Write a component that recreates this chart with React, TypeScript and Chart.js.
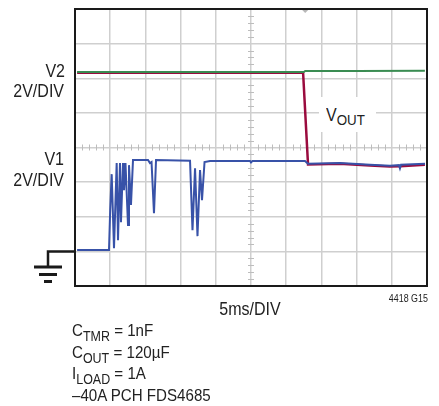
import React, { useEffect, useRef } from "react";
import { Chart, registerables } from "chart.js";

Chart.register(...registerables);

// Time axis in ms (5 ms/DIV, 10 divisions); values in divisions (8 divisions, center = 0)
const xMin = 0;
const xMax = 50;
const xStep = 5;
const yMin = -4;
const yMax = 4;
const yStep = 1;
const groundLevel = -3;
const triggerTime = 32.7;

// V2 (green)
const v2Time = [0.3, 10, 20, 32.5, 32.7, 40, 49.7];
const v2Vals = [2.18, 2.18, 2.18, 2.18, 2.21, 2.21, 2.22];

// VOUT (red)
const voutTime = [0.3, 20, 32.4, 33.1, 37.6, 41.9, 44.7, 46.2, 49.7];
const voutVals = [2.16, 2.16, 2.16, -0.49, -0.47, -0.52, -0.55, -0.54, -0.5];

// V1 (blue)
const v1Time = [
  0.3, 4.83, 5.0, 5.21, 5.54, 5.92, 6.11, 6.39, 6.53, 6.82, 6.96, 7.17, 7.53, 7.67,
  7.95, 8.24, 10.37, 10.65, 10.87, 11.22, 11.51, 16.34, 16.69, 17.05, 17.4, 17.76,
  18.04, 18.4, 19.18, 24.86, 25.0, 25.2, 32.67, 33.1, 37.64, 41.9, 44.74, 46.02, 46.16,
  46.31, 49.72,
];
const v1Vals = [
  -2.96, -2.96, -1.8, -0.77, -2.91, -0.45, -2.68, -0.45, -2.16, -0.45, -1.23, -0.45,
  -2.24, -0.51, -1.66, -0.36, -0.36, -0.45, -0.42, -1.9, -0.36, -0.38, -2.39, -0.6,
  -2.56, -0.65, -1.52, -0.42, -0.39, -0.39, -0.43, -0.39, -0.39, -0.47, -0.45, -0.5,
  -0.53, -0.51, -0.6, -0.5, -0.47,
];

const toPoints = (t: number[], v: number[]) => t.map((x, i) => ({ x, y: v[i] }));

const FONT = '"Liberation Sans", Arial, sans-serif';
const SX = 0.89;

const scopePlugin = {
  id: "scope",
  beforeDatasetsDraw(chart: any) {
    const { ctx, chartArea, scales } = chart;
    const xs = scales.x;
    const ys = scales.y;
    const cx = xs.getPixelForValue((xMin + xMax) / 2);
    const cy = ys.getPixelForValue(0);
    ctx.save();
    ctx.strokeStyle = "#bdbdbd";
    ctx.lineWidth = 1;
    ctx.beginPath();
    for (let t = xMin + 1; t < xMax; t += 1) {
      if (t % xStep === 0) continue;
      const px = Math.round(xs.getPixelForValue(t)) + 0.5;
      ctx.moveTo(px, cy - 3);
      ctx.lineTo(px, cy + 3);
    }
    for (let v = yMin + 0.2; v < yMax - 0.1; v += 0.2) {
      if (Math.abs(v - Math.round(v)) < 0.01) continue;
      const py = Math.round(ys.getPixelForValue(v)) + 0.5;
      ctx.moveTo(cx - 3, py);
      ctx.lineTo(cx + 3, py);
    }
    ctx.stroke();
    // trigger marker
    const tx = xs.getPixelForValue(triggerTime);
    ctx.fillStyle = "#b8b8b8";
    ctx.beginPath();
    ctx.moveTo(tx - 3, chartArea.top + 1);
    ctx.lineTo(tx + 3, chartArea.top + 1);
    ctx.lineTo(tx, chartArea.top + 4);
    ctx.closePath();
    ctx.fill();
    ctx.restore();
  },
  afterDraw(chart: any) {
    const { ctx, chartArea, scales } = chart;
    ctx.save();
    ctx.strokeStyle = "#1a1a1a";
    ctx.lineWidth = 2;
    ctx.strokeRect(
      chartArea.left,
      chartArea.top,
      chartArea.right - chartArea.left,
      chartArea.bottom - chartArea.top
    );
    // ground symbol
    const gy = scales.y.getPixelForValue(groundLevel);
    const gx = chartArea.left - 27;
    ctx.lineWidth = 2.5;
    ctx.beginPath();
    ctx.moveTo(chartArea.left, gy);
    ctx.lineTo(gx, gy);
    ctx.lineTo(gx, gy + 15);
    ctx.stroke();
    ctx.lineWidth = 3;
    ctx.beginPath();
    ctx.moveTo(gx - 14, gy + 15.5);
    ctx.lineTo(gx + 14, gy + 15.5);
    ctx.moveTo(gx - 9, gy + 23);
    ctx.lineTo(gx + 9, gy + 23);
    ctx.moveTo(gx - 4, gy + 30);
    ctx.lineTo(gx + 4, gy + 30);
    ctx.stroke();
    ctx.restore();
  },
};

type TxtProps = {
  children: React.ReactNode;
  baseline: number;
  size: number;
  left?: number;
  right?: number;
  center?: number;
  bg?: boolean;
};

function Txt({ children, baseline, size, left, right, center }: TxtProps) {
  const style: React.CSSProperties = {
    position: "absolute",
    top: baseline - 0.8465 * size,
    fontSize: size,
    lineHeight: `${size}px`,
    fontFamily: FONT,
    color: "#222",
    whiteSpace: "nowrap",
  };
  if (left !== undefined) {
    style.left = left;
    style.transform = `scaleX(${SX})`;
    style.transformOrigin = "left top";
  } else if (right !== undefined) {
    style.right = 439 - right;
    style.transform = `scaleX(${SX})`;
    style.transformOrigin = "right top";
  } else if (center !== undefined) {
    style.left = center;
    style.transform = `translateX(-50%) scaleX(${SX})`;
    style.transformOrigin = "center top";
  }
  return <div style={style}>{children}</div>;
}

const Sub = ({ children, size = 14, drop = 4.5 }: { children: React.ReactNode; size?: number; drop?: number }) => (
  <span style={{ fontSize: size, verticalAlign: -drop }}>{children}</span>
);

export default function App() {
  const ref = useRef<HTMLCanvasElement | null>(null);

  useEffect(() => {
    if (!ref.current) return;
    const chart = new Chart(ref.current, {
      type: "line",
      data: {
        datasets: [
          {
            label: "V1",
            data: toPoints(v1Time, v1Vals),
            borderColor: "#3852a8",
            borderWidth: 2,
            pointRadius: 0,
            tension: 0,
            order: 0,
          },
          {
            label: "V2",
            data: toPoints(v2Time, v2Vals),
            borderColor: "#3a8c52",
            borderWidth: 2,
            pointRadius: 0,
            tension: 0,
            order: 1,
          },
          {
            label: "VOUT",
            data: toPoints(voutTime, voutVals),
            borderColor: "#9a0b3e",
            borderWidth: 2.5,
            pointRadius: 0,
            tension: 0,
            order: 2,
          },
        ],
      },
      options: {
        animation: false,
        responsive: false,
        devicePixelRatio: 1,
        layout: { padding: { left: 75, top: 9, right: 12, bottom: 120 } },
        plugins: { legend: { display: false }, tooltip: { enabled: false } },
        scales: {
          x: {
            type: "linear",
            min: xMin,
            max: xMax,
            ticks: { display: false, stepSize: xStep },
            grid: { color: "#cfcfcf", lineWidth: 1.5, drawTicks: false },
            border: { display: false },
          },
          y: {
            type: "linear",
            min: yMin,
            max: yMax,
            ticks: { display: false, stepSize: yStep },
            grid: { color: "#cfcfcf", lineWidth: 1.5, drawTicks: false },
            border: { display: false },
          },
        },
      },
      plugins: [scopePlugin],
    });
    return () => chart.destroy();
  }, []);

  return (
    <div
      style={{
        position: "absolute",
        left: 0,
        top: 0,
        width: 439,
        height: 406,
        background: "#fff",
        overflow: "hidden",
      }}
    >
      <canvas ref={ref} width={439} height={406} style={{ position: "absolute", left: 0, top: 0 }} />
      <div
        style={{ position: "absolute", left: 319, top: 97, width: 57, height: 35, background: "#fff" }}
      />
      <Txt right={65} baseline={77} size={18}>V2</Txt>
      <Txt right={64} baseline={97} size={18}>2V/DIV</Txt>
      <Txt right={64} baseline={165} size={18}>V1</Txt>
      <Txt right={64} baseline={186} size={18}>2V/DIV</Txt>
      <Txt left={326} baseline={121} size={18}>
        V<Sub size={15} drop={4}>OUT</Sub>
      </Txt>
      <Txt center={250} baseline={315} size={18}>5ms/DIV</Txt>
      <Txt right={428} baseline={302} size={10}>4418 G15</Txt>
      <Txt left={72} baseline={336.5} size={17}>
        C<Sub>TMR</Sub> = 1nF
      </Txt>
      <Txt left={72} baseline={358} size={17}>
        C<Sub>OUT</Sub> = 120µF
      </Txt>
      <Txt left={72} baseline={379.5} size={17}>
        I<Sub>LOAD</Sub> = 1A
      </Txt>
      <Txt left={72} baseline={401} size={17}>–40A PCH FDS4685</Txt>
    </div>
  );
}
